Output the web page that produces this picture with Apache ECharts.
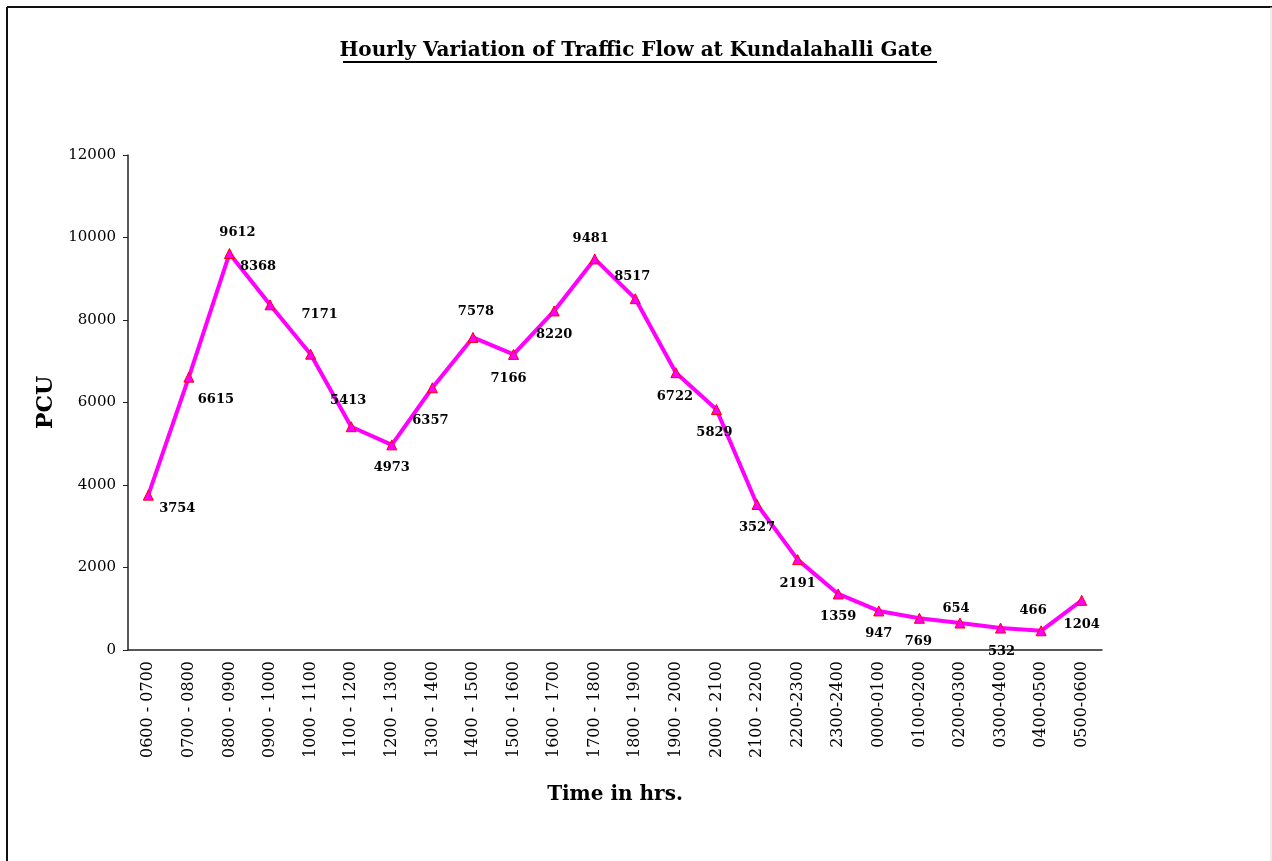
<!DOCTYPE html>
<html>
<head>
<meta charset="utf-8">
<script src="https://cdn.jsdelivr.net/npm/echarts@6/dist/echarts.min.js"></script>
<style>
    html, body { margin: 0; padding: 0; background: #fff; }
    #main { width: 1272px; height: 861px; }
</style>
</head>
<body>
<div id="main"></div>
<script>
var timeSlots = ['0600 - 0700', '0700 - 0800', '0800 - 0900', '0900 - 1000', '1000 - 1100',
    '1100 - 1200', '1200 - 1300', '1300 - 1400', '1400 - 1500', '1500 - 1600',
    '1600 - 1700', '1700 - 1800', '1800 - 1900', '1900 - 2000', '2000 - 2100',
    '2100 - 2200', '2200-2300', '2300-2400', '0000-0100', '0100-0200',
    '0200-0300', '0300-0400', '0400-0500', '0500-0600'];
var pcu = [3754, 6615, 9612, 8368, 7171, 5413, 4973, 6357, 7578, 7166,
    8220, 9481, 8517, 6722, 5829, 3527, 2191, 1359, 947, 769,
    654, 532, 466, 1204];
// where each value label sits, relative to its point (pixels)
var labelOffsets = [[29, 13], [27, 22], [8, -21], [-12, -38], [9, -40],
    [-3, -26], [0, 23], [-2, 33], [3, -26], [-5, 24],
    [0, 24], [-4, -20], [-3, -22], [-1, 24], [-2, 23],
    [0, 23], [0, 24], [0, 23], [0, 23], [-1, 23],
    [-4, -14], [1, 24], [-8, -20], [0, 24]];

var serif = "'DejaVu Serif', 'Liberation Serif', serif";

var seriesData = pcu.map(function (v, i) {
    return {
        value: v,
        label: { offset: labelOffsets[i] }
    };
});

var myChart = echarts.init(document.getElementById('main'));
myChart.setOption({
    backgroundColor: '#fff',
    animation: false,
    title: {
        text: 'Hourly Variation of Traffic Flow at Kundalahalli Gate',
        left: 'center',
        top: 36,
        textStyle: {
            fontFamily: serif,
            fontWeight: 'bold',
            fontSize: 20,
            color: '#000'
        }
    },
    grid: {
        left: 128,
        right: 170,
        top: 155,
        bottom: 211
    },
    xAxis: {
        type: 'category',
        data: timeSlots,
        boundaryGap: true,
        name: 'Time in hrs.',
        nameLocation: 'middle',
        nameGap: 135,
        nameTextStyle: {
            fontFamily: serif,
            fontWeight: 'bold',
            fontSize: 20,
            color: '#000'
        },
        axisLine: { lineStyle: { color: '#222', width: 1.5 } },
        axisTick: { length: 5, lineStyle: { color: '#222' } },
        axisLabel: {
            rotate: 90,
            interval: 0,
            margin: 11,
            fontFamily: serif,
            fontSize: 16,
            color: '#000'
        }
    },
    yAxis: {
        type: 'value',
        min: 0,
        max: 12000,
        interval: 2000,
        name: 'PCU',
        nameLocation: 'middle',
        nameGap: 69,
        nameTextStyle: {
            fontFamily: serif,
            fontWeight: 'bold',
            fontSize: 22,
            color: '#000'
        },
        axisLine: { show: true, lineStyle: { color: '#222', width: 1.5 } },
        axisTick: { show: true, length: 5, lineStyle: { color: '#222' } },
        splitLine: { show: false },
        axisLabel: {
            margin: 12,
            fontFamily: serif,
            fontSize: 15,
            color: '#000',
            formatter: function (v) { return String(v); }
        }
    },
    series: [{
        type: 'line',
        data: seriesData,
        symbol: 'triangle',
        symbolSize: 10,
        lineStyle: { color: '#ff00ff', width: 4 },
        itemStyle: { color: '#ff00ff', borderColor: '#ff0000', borderWidth: 1 },
        label: {
            show: true,
            position: 'inside',
            fontFamily: serif,
            fontWeight: 'bold',
            fontSize: 13,
            color: '#000'
        }
    }],
    graphic: [
        // title underline
        { type: 'line', shape: { x1: 343, y1: 62, x2: 937, y2: 62 }, style: { stroke: '#000', lineWidth: 2 } },
        // page frame
        { type: 'line', shape: { x1: 7, y1: 7, x2: 1272, y2: 7 }, style: { stroke: '#111', lineWidth: 2 } },
        { type: 'line', shape: { x1: 7, y1: 7, x2: 7, y2: 861 }, style: { stroke: '#111', lineWidth: 2 } },
        { type: 'line', shape: { x1: 1271, y1: 7, x2: 1271, y2: 861 }, style: { stroke: '#ddd', lineWidth: 1 } }
    ]
});
</script>
</body>
</html>
